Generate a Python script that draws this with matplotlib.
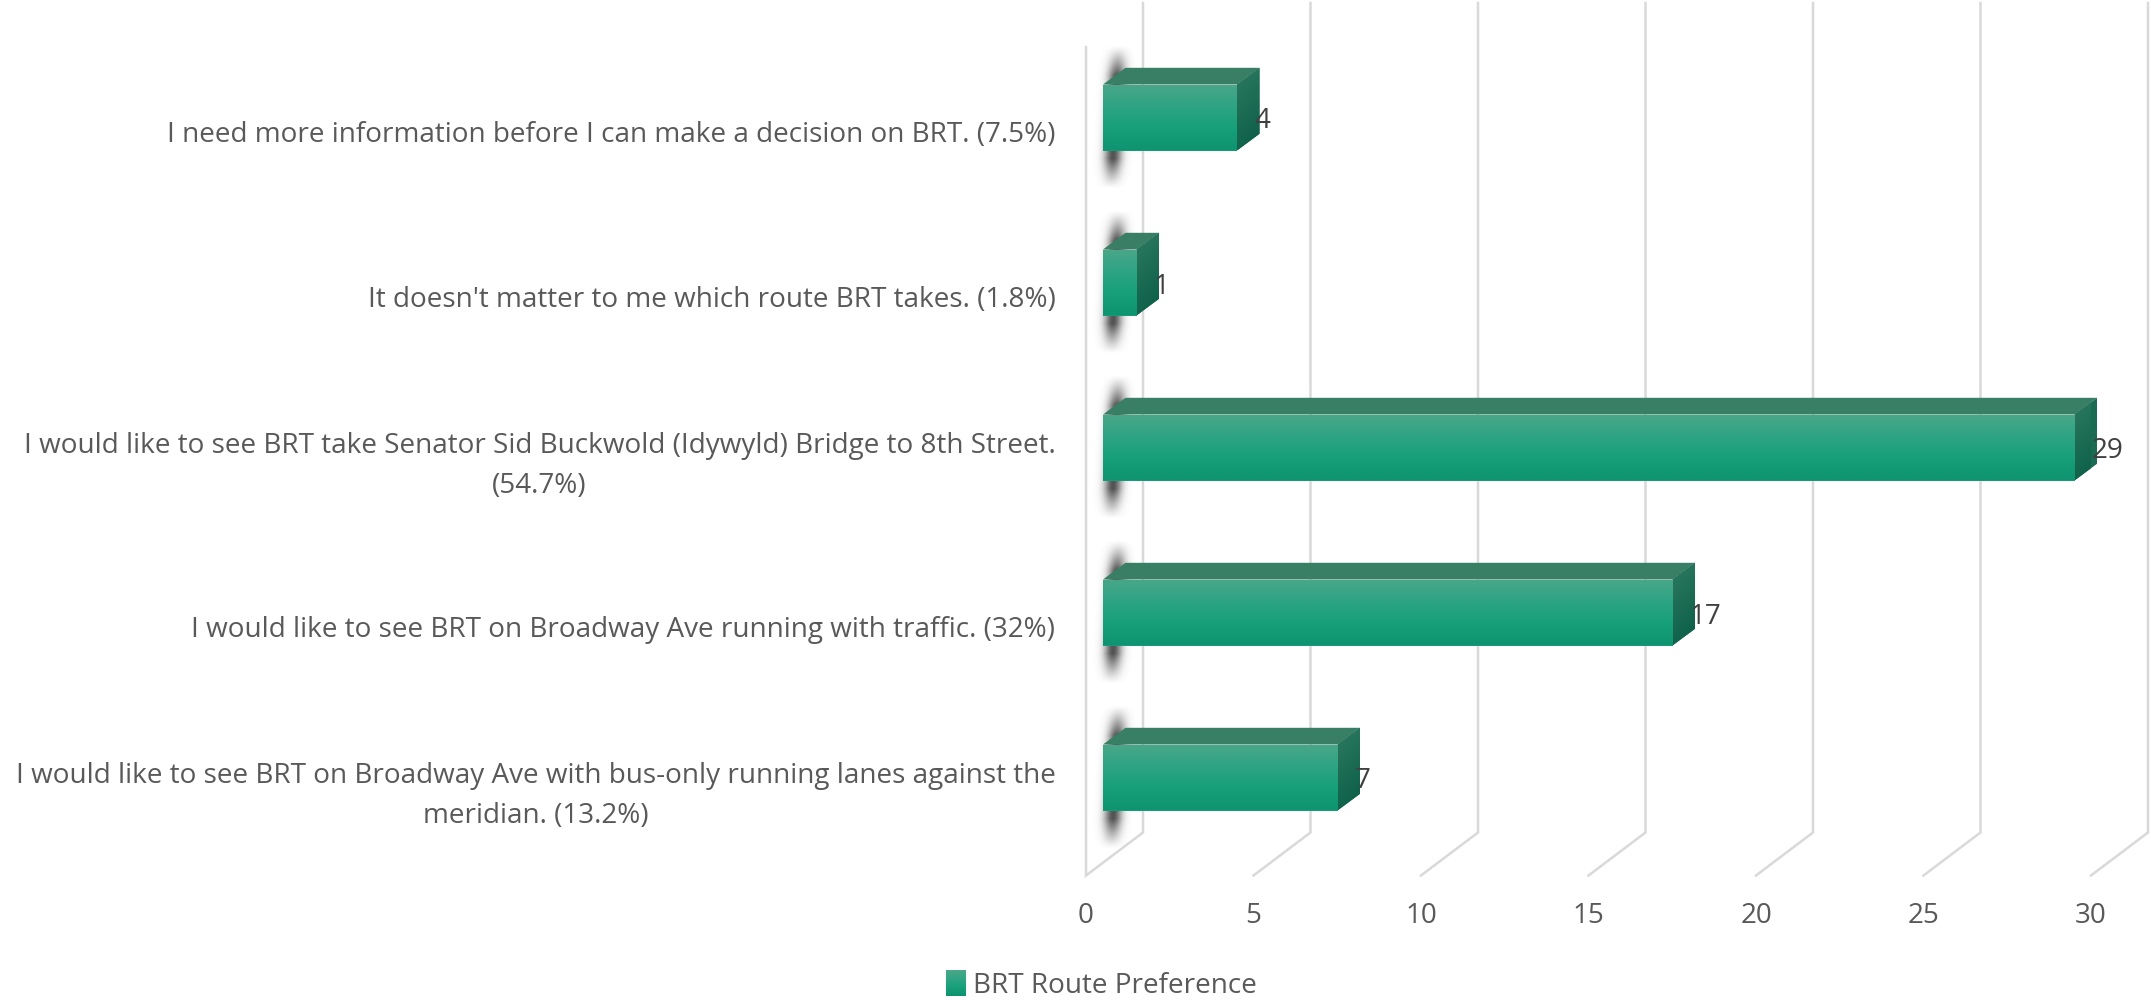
import numpy as np
import matplotlib
matplotlib.use("Agg")
import matplotlib.pyplot as plt
from matplotlib.patches import Polygon, Rectangle
from matplotlib.transforms import Affine2D, IdentityTransform
from matplotlib.colors import LinearSegmentedColormap
from matplotlib.legend_handler import HandlerBase

categories = [
    "I need more information before I can make a decision on BRT. (7.5%)",
    "It doesn't matter to me which route BRT takes. (1.8%)",
    "I would like to see BRT take Senator Sid Buckwold (Idywyld) Bridge to 8th Street.\n(54.7%)",
    "I would like to see BRT on Broadway Ave running with traffic. (32%)",
    "I would like to see BRT on Broadway Ave with bus-only running lanes against the\nmeridian. (13.2%)",
]
values = [4, 1, 29, 17, 7]
x_ticks = [0, 5, 10, 15, 20, 25, 30]
series_name = "BRT Route Preference"

W, H = 2151, 1000
FONT = "Open Sans"
FS = 20.05
GRID = "#d9d9d9"
TXT = "#595959"
LBL = "#404040"
front_cmap = LinearSegmentedColormap.from_list("f", ["#4aa788", "#2ea484", "#17a07a", "#0e9470"])
side_cmap = LinearSegmentedColormap.from_list("s", ["#2c7a60", "#0a5d46"])

fig = plt.figure(figsize=(W / 100, H / 100), dpi=100)
L, R, T, B = 1086, 2091, 50.5, 875.5
ax = fig.add_axes([L / W, 1 - B / H, (R - L) / W, (B - T) / H])
ax.set_xlim(0, 30)
ax.set_ylim(len(values) - 0.5, -0.5)
ax.set_autoscale_on(False)
for s in ax.spines.values():
    s.set_visible(False)
ax.patch.set_visible(False)

ax.set_xticks(x_ticks)
ax.set_xticklabels([str(t) for t in x_ticks], fontfamily=FONT, fontsize=FS, color=TXT)
ax.set_yticks(range(len(categories)))
ax.set_yticklabels(categories, fontfamily=FONT, fontsize=FS, color=TXT, multialignment="center",
                   linespacing=1.55)
ax.tick_params(axis="both", length=0)
ax.tick_params(axis="x", pad=19)
ax.tick_params(axis="y", pad=22)
for lab in ax.get_yticklabels():
    dy = 6 if "\n" in lab.get_text() else 1.5
    lab.set_transform(lab.get_transform() + Affine2D().translate(0, dy))

DEPTH_X, DEPTH_Y = 57, 43
ylo = ax.get_ylim()[0]
for t in x_ticks:
    x0, y0 = ax.transData.transform((t, ylo))
    px = [x0, x0 + DEPTH_X, x0 + DEPTH_X]
    py = [y0, y0 + DEPTH_Y, H - 3]
    if t == 0:
        px = [x0] + px
        py = [H - 47] + py
    ax.plot(px, py, color=GRID, lw=1.8, transform=IdentityTransform(), clip_on=False, zorder=1,
            solid_joinstyle="miter")

front = ax.transData + Affine2D().translate(17, 15.5)
BAR_H = 0.4
SX, SY = 22.5, 16.7
bars = ax.barh(range(len(values)), values, height=BAR_H, color="#159c77", transform=front,
               zorder=4, clip_on=False, linewidth=0)


def grad(cmap, extent, clip, z, diagonal=False):
    if diagonal:
        g = np.linspace(0, 1, 128)[:, None] + np.linspace(0, 0.25, 8)[None, :]
        g = g / g.max()
    else:
        g = np.linspace(0, 1, 128)[:, None]
    im = ax.imshow(g, cmap=cmap, extent=extent, aspect="auto", origin="upper",
                   transform=IdentityTransform(), zorder=z, clip_on=True, vmin=0, vmax=1,
                   interpolation="bilinear")
    im.set_clip_path(clip)


for i, (v, bar) in enumerate(zip(values, bars)):
    (x0, y_top), (x1, y_bot) = front.transform([(0, i - BAR_H / 2), (v, i + BAR_H / 2)])
    # soft shadow behind the bar start
    sx, sy = x0 + 12, (y_top + y_bot) / 2
    ys, xs = np.mgrid[-80:80:161j, -25:25:51j]
    cx = 0.05 * ys
    a = np.exp(-((xs - cx) / 9.0) ** 2) * np.clip((72 - np.abs(ys)) / 30.0, 0, 1) ** 1.2
    rgba = np.zeros(a.shape + (4,))
    rgba[..., :3] = 0.25
    rgba[..., 3] = 0.9 * a
    ax.imshow(rgba, extent=(sx - 25, sx + 25, sy - 80, sy + 80), aspect="auto", origin="lower",
              transform=IdentityTransform(), zorder=2, clip_on=False)
    # top face
    top = Polygon([(x0, y_top), (x1, y_top), (x1 + SX, y_top + SY), (x0 + SX, y_top + SY)],
                  closed=True, facecolor="#397f66", edgecolor="none",
                  transform=IdentityTransform(), zorder=3, clip_on=False)
    ax.add_patch(top)
    # side face
    side = Polygon([(x1, y_top), (x1 + SX, y_top + SY), (x1 + SX, y_bot + SY), (x1, y_bot)],
                   closed=True, facecolor="#1a6b52", edgecolor="none",
                   transform=IdentityTransform(), zorder=3, clip_on=False)
    ax.add_patch(side)
    grad(side_cmap, (x1, x1 + SX, y_bot, y_top + SY), side, 3.5, diagonal=True)
    # front face gradient
    clip = Rectangle((x0, y_bot), x1 - x0, y_top - y_bot, transform=IdentityTransform())
    grad(front_cmap, (x0, x1, y_bot, y_top), clip, 4.5)
    # data label
    ax.annotate(str(v), xy=(v, i), xycoords=front, xytext=(17, -4), textcoords="offset pixels",
                ha="left", va="center", fontfamily=FONT, fontsize=FS, color=LBL, zorder=6,
                annotation_clip=False)


class GradHandler(HandlerBase):
    def create_artists(self, legend, orig, xd, yd, w, h, fs, trans):
        n = 24
        y = yd - 2
        hh = h + 4
        out = []
        for k in range(n):
            c = front_cmap(k / (n - 1))
            out.append(Rectangle((xd, y + hh * (n - 1 - k) / n), w, hh / n + 0.3, facecolor=c,
                                 edgecolor="none", transform=trans))
        return out


handle = Rectangle((0, 0), 1, 1, label=series_name)
fig.legend(handles=[handle], labels=[series_name], handler_map={Rectangle: GradHandler()},
           loc="center", bbox_to_anchor=(1101 / W, 1 - 986 / H), frameon=False,
           prop={"family": FONT, "size": FS}, labelcolor=TXT, handlelength=0.72, handleheight=0.7,
           handletextpad=0.25, borderpad=0, borderaxespad=0)

fig.savefig("out.png", dpi=100, facecolor="white")
